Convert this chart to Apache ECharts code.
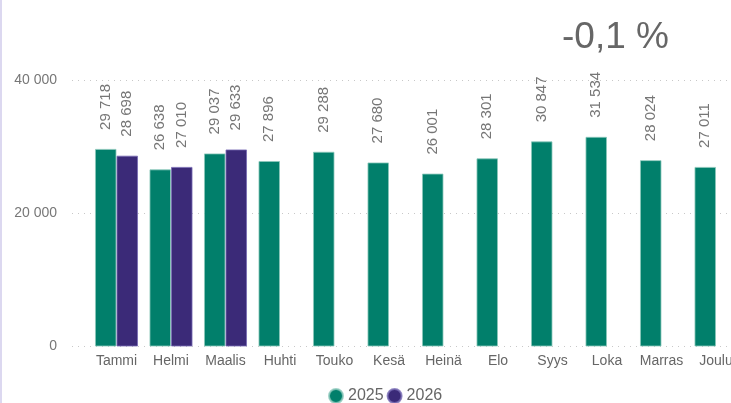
<!DOCTYPE html>
<html>
<head>
<meta charset="utf-8">
<script src="https://cdn.jsdelivr.net/npm/echarts@6/dist/echarts.min.js"></script>
<style>
html,body{margin:0;padding:0;background:#fff;overflow:hidden;width:731px;height:403px;}
#chart{width:760px;height:403px;}
</style>
</head>
<body>
<div id="chart"></div>
<script>
const categories = ['Tammi','Helmi','Maalis','Huhti','Touko','Kesä','Heinä','Elo','Syys','Loka','Marras','Joulu'];
const values2025 = [29718, 26638, 29037, 27896, 29288, 27680, 26001, 28301, 30847, 31534, 28024, 27011];
const values2026 = [28698, 27010, 29633, null, null, null, null, null, null, null, null, null];
const yTicks = [0, 20000, 40000];
const titleText = '-0,1 %';

const FONT = '"Segoe UI", "Liberation Sans", Arial, sans-serif';
const fmt = v => String(v).replace(/\B(?=(\d{3})+(?!\d))/g, ' ');

const chart = echarts.init(document.getElementById('chart'));
const labelCfg = {
  show: true,
  position: 'top',
  rotate: 90,
  align: 'left',
  verticalAlign: 'middle',
  distance: 19,
  color: '#767676',
  fontSize: 15,
  fontFamily: FONT,
  formatter: p => fmt(p.value)
};
chart.setOption({
  animation: false,
  title: {
    text: titleText,
    left: 557,
    top: 14,
    textStyle: {fontSize: 37, fontWeight: 'normal', color: '#666', fontFamily: FONT}
  },
  graphic: [{
    type: 'rect', shape: {x: 0, y: 0, width: 2, height: 403},
    style: {fill: '#dcd8f0'}
  }],
  legend: {
    left: 323, top: 383,
    icon: 'circle', itemWidth: 14, itemHeight: 14, itemGap: 3,
    textStyle: {fontSize: 16, color: '#666', fontFamily: FONT},
    data: ['2025', '2026']
  },
  grid: [
    {left: 89.25, width: 654, top: 80.5, bottom: 56.5},
    {left: 72, right: 0, top: 80.5, bottom: 56.5}
  ],
  xAxis: [
    {
      type: 'category', gridIndex: 0, data: categories,
      axisLine: {show: false}, axisTick: {show: false},
      axisLabel: {color: '#666', fontSize: 14, fontFamily: FONT, margin: 8, interval: 0}
    },
    {type: 'value', gridIndex: 1, min: 0, max: 1, show: false}
  ],
  yAxis: [
    {type: 'value', gridIndex: 0, min: 0, max: 40000, interval: 20000, show: false},
    {
      type: 'value', gridIndex: 1, min: yTicks[0], max: yTicks[yTicks.length-1], interval: 20000,
      axisLine: {show: false}, axisTick: {show: false},
      axisLabel: {color: '#777', fontSize: 14, fontFamily: FONT, margin: 15, formatter: v => fmt(v)},
      splitLine: {show: true, lineStyle: {color: '#c8c8c8', type: [1, 5], width: 1}}
    }
  ],
  series: [
    {
      name: '2025', type: 'bar', xAxisIndex: 0, yAxisIndex: 0,
      data: values2025, barGap: '0%', barCategoryGap: '21%',
      itemStyle: {color: '#017F6B', borderColor: 'rgba(140,200,188,0.8)', borderWidth: 1},
      label: labelCfg
    },
    {
      name: '2026', type: 'bar', xAxisIndex: 0, yAxisIndex: 0,
      data: values2026, barGap: '0%', barCategoryGap: '21%',
      itemStyle: {color: '#3B2A78', borderColor: 'rgba(120,108,180,0.8)', borderWidth: 1},
      label: labelCfg
    }
  ]
});
</script>
</body>
</html>
